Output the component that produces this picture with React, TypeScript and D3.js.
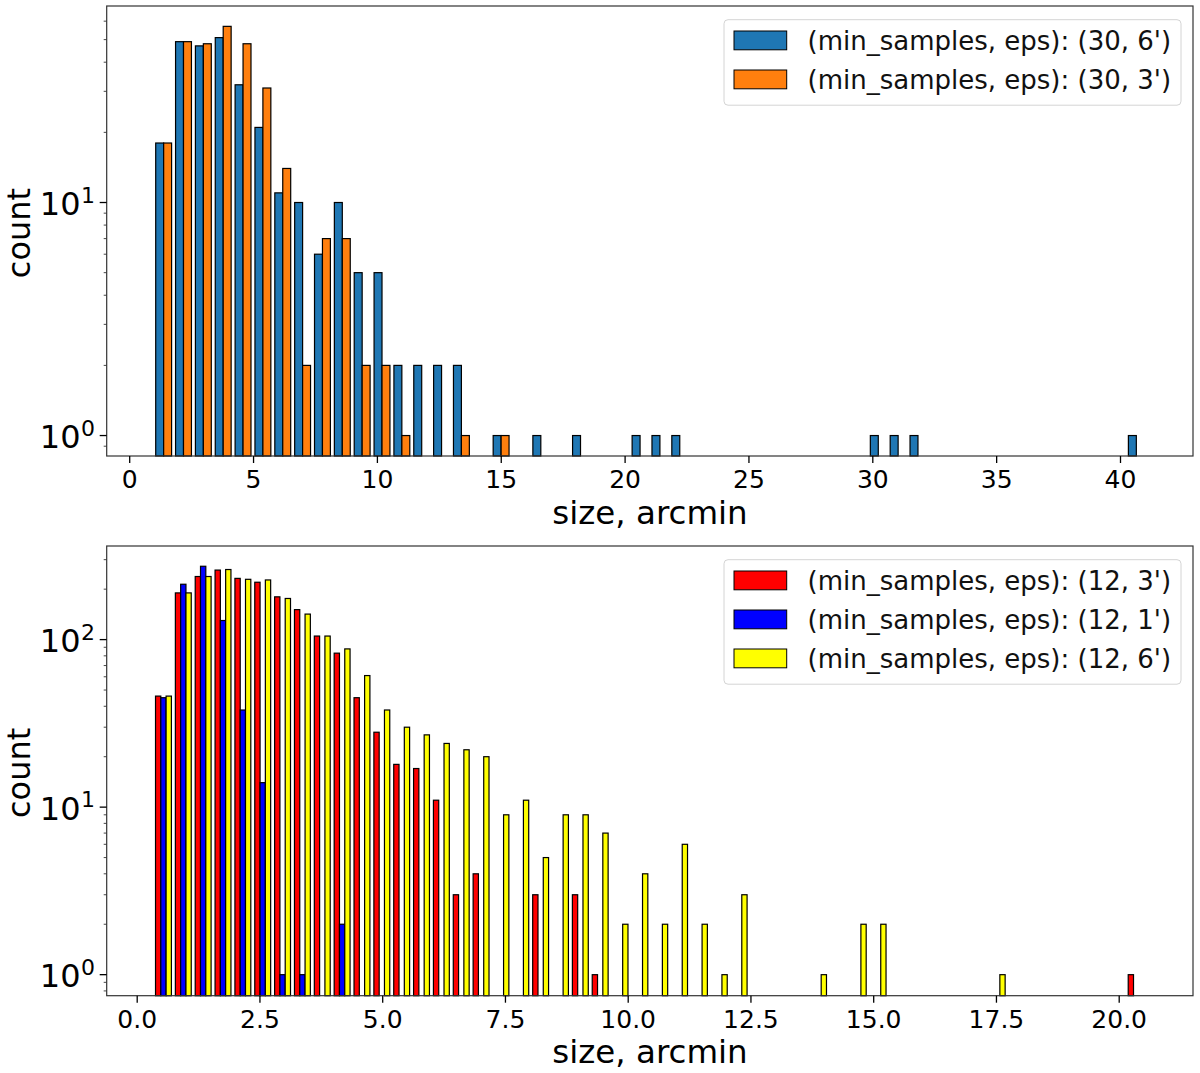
import React from "react";
import * as d3 from "d3";

const W = 1200;
const H = 1073;
const FONT = "'DejaVu Sans', sans-serif";

// Top panel: bin counts, 0 = empty bin
const blue30x6 = [18, 49, 47, 51, 32, 21, 11, 10, 6, 10, 5, 5, 2, 2, 2, 2, 0, 1, 0, 1, 0, 1, 0, 0, 1, 1, 1, 0, 0, 0, 0, 0, 0, 0, 0, 0, 1, 1, 1, 0, 0, 0, 0, 0, 0, 0, 0, 0, 0, 1];
const orange30x3 = [18, 49, 48, 57, 48, 31, 14, 2, 7, 7, 2, 2, 1, 0, 0, 1, 0, 1];
// Bottom panel: bin counts
const red12x3 = [46, 190, 238, 260, 232, 220, 180, 151, 105, 83, 45, 28, 18, 17, 11, 3, 4, 0, 0, 3, 0, 3, 1, 0, 0, 0, 0, 0, 0, 0, 0, 0, 0, 0, 0, 0, 0, 0, 0, 0, 0, 0, 0, 0, 0, 0, 0, 0, 0, 1];
const blue12x1 = [45, 214, 274, 130, 38, 14, 1, 1, 0, 2];
const yellow12x6 = [46, 190, 238, 262, 229, 227, 176, 142, 105, 88, 61, 38, 30, 27, 24, 22, 20, 9, 11, 5, 9, 9, 7, 2, 4, 2, 6, 2, 1, 3, 0, 0, 0, 1, 0, 2, 2, 0, 0, 0, 0, 0, 1];

const topXTicks = [0, 5, 10, 15, 20, 25, 30, 35, 40];
const bottomXTicks = [0, 2.5, 5, 7.5, 10, 12.5, 15, 17.5, 20];
const topDecades = [0, 1];
const bottomDecades = [0, 1, 2];
const minorMultipliers = [2, 3, 4, 5, 6, 7, 8, 9];

const legendLabel = (a: number, b: number) => `(min_samples, eps): (${a}, ${b}')`;

type Series = { values: number[]; color: string; label: string };

const topSeries: Series[] = [
  { values: blue30x6, color: "#1f77b4", label: legendLabel(30, 6) },
  { values: orange30x3, color: "#ff7f0e", label: legendLabel(30, 3) },
];
const bottomSeries: Series[] = [
  { values: red12x3, color: "#ff0000", label: legendLabel(12, 3) },
  { values: blue12x1, color: "#0000ff", label: legendLabel(12, 1) },
  { values: yellow12x6, color: "#ffff00", label: legendLabel(12, 6) },
];

type PanelProps = {
  top: number;
  bottom: number;
  xDomain: [number, number];
  xRange: [number, number];
  yDomain: [number, number];
  binStart: number;
  binWidth: number;
  series: Series[];
  xTicks: number[];
  xFormat: (v: number) => string;
  decades: number[];
};

const LEFT = 106.7;
const RIGHT = 1193;

function Panel(p: PanelProps) {
  const x = d3.scaleLinear().domain(p.xDomain).range(p.xRange);
  const y = d3.scaleLog().domain(p.yDomain).range([p.bottom, p.top]);
  const barW = (0.8 * p.binWidth) / p.series.length;
  const minor: number[] = [];
  [-1, ...p.decades, p.decades[p.decades.length - 1] + 1].forEach((d) =>
    minorMultipliers.forEach((m) => {
      const v = m * Math.pow(10, d);
      if (v > p.yDomain[0] && v < p.yDomain[1]) minor.push(v);
    })
  );
  const legendTop = p.top + 13.7;
  const rowH = 39;
  return (
    <g fontFamily={FONT} fill="#000">
      {p.series.map((s, si) =>
        s.values.map((v, i) => {
          if (!v) return null;
          const x0 = x(p.binStart + i * p.binWidth + si * barW);
          const x1 = x(p.binStart + i * p.binWidth + (si + 1) * barW);
          return (
            <rect
              key={si + "-" + i}
              x={x0}
              y={y(v)}
              width={x1 - x0}
              height={p.bottom - y(v)}
              fill={s.color}
              stroke="#000"
              strokeWidth={1.2}
            />
          );
        })
      )}
      <rect x={LEFT} y={p.top} width={RIGHT - LEFT} height={p.bottom - p.top} fill="none" stroke="#333" strokeWidth={1.2} />
      {p.xTicks.map((t) => (
        <g key={t}>
          <line x1={x(t)} x2={x(t)} y1={p.bottom} y2={p.bottom + 7} stroke="#000" strokeWidth={1.3} />
          <text x={x(t)} y={p.bottom + 32} fontSize={25} textAnchor="middle">
            {p.xFormat(t)}
          </text>
        </g>
      ))}
      {p.decades.map((d) => {
        const yy = y(Math.pow(10, d));
        return (
          <g key={d}>
            <line x1={LEFT} x2={LEFT - 7} y1={yy} y2={yy} stroke="#000" strokeWidth={1.3} />
            <text x={80.5} y={yy + 12.5} fontSize={32} textAnchor="end">10</text>
            <text x={95} y={yy} fontSize={22} textAnchor="end">{d}</text>
          </g>
        );
      })}
      {minor.map((v) => (
        <line key={v} x1={LEFT} x2={LEFT - 3} y1={y(v)} y2={y(v)} stroke="#333" strokeWidth={0.9} />
      ))}
      <text x={650} y={p.bottom + 67.5} fontSize={32.5} textAnchor="middle">size, arcmin</text>
      <text
        transform={`translate(30,${(p.top + p.bottom) / 2 + 2}) rotate(-90)`}
        fontSize={32}
        textAnchor="middle"
      >
        count
      </text>
      <rect
        x={724}
        y={legendTop}
        width={457}
        height={rowH * p.series.length + 7.5}
        rx={4}
        fill="#fff"
        fillOpacity={0.8}
        stroke="#d4d4d4"
        strokeWidth={1}
      />
      {p.series.map((s, i) => {
        const py = p.top + 25 + i * rowH;
        return (
          <g key={s.label}>
            <rect x={734} y={py} width={52.7} height={18.8} fill={s.color} stroke="#000" strokeWidth={1} />
            <text x={807.5} y={py + 19} fontSize={26} fill="#111">{s.label}</text>
          </g>
        );
      })}
    </g>
  );
}

export default function App() {
  return (
    <svg
      width={W}
      height={H}
      viewBox={`0 0 ${W} ${H}`}
      style={{ position: "absolute", left: 0, top: 0, display: "block", background: "#fff" }}
    >
      <Panel
        top={6}
        bottom={456}
        xDomain={[0, 40]}
        xRange={[129.7, 1120.5]}
        yDomain={[0.817, 69.7]}
        binStart={1.05}
        binWidth={0.8014}
        series={topSeries}
        xTicks={topXTicks}
        xFormat={(v) => String(v)}
        decades={topDecades}
      />
      <Panel
        top={546}
        bottom={995.7}
        xDomain={[0, 20]}
        xRange={[137.2, 1119.2]}
        yDomain={[0.749, 362]}
        binStart={0.373}
        binWidth={0.4043}
        series={bottomSeries}
        xTicks={bottomXTicks}
        xFormat={(v) => v.toFixed(1)}
        decades={bottomDecades}
      />
    </svg>
  );
}
